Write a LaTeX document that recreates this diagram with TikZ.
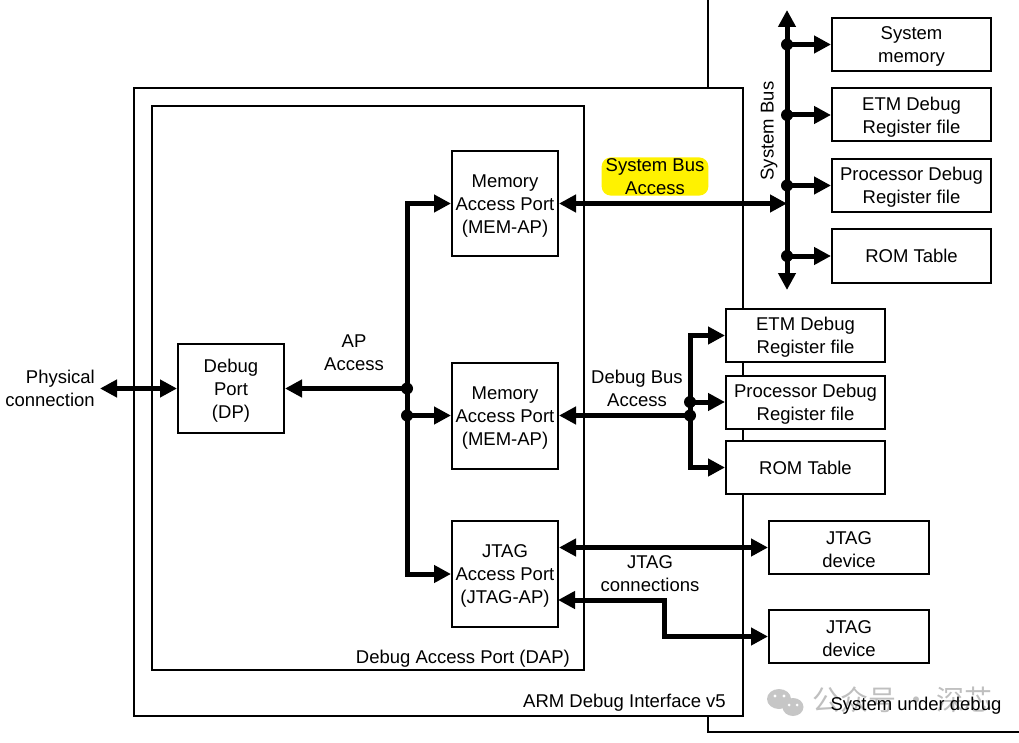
\documentclass[tikz,border=0pt]{standalone}
\usepackage{fontspec}
\setmainfont{Liberation Sans}
\newfontfamily\cjkfont{Noto Sans CJK SC}
\usetikzlibrary{arrows.meta,calc}
\newcommand\mystrut{\rule{0pt}{17.5pt}}
\begin{document}
\begin{tikzpicture}[x=1pt,y=-1pt,
  every node/.style={font=\fontsize{18.5pt}{23pt}\selectfont},
  box/.style={draw,line width=2pt,fill=white,align=center,inner sep=0pt},
  apbox/.style={box,minimum width=106pt,minimum height=106pt},
  rbox/.style={box,minimum width=159pt,minimum height=53pt},
  frame/.style={draw,line width=2pt},
  bus/.style={line width=5pt},
  tip/.style={-{Triangle[length=17pt,width=17pt]}},
  dtip/.style={{Triangle[length=17pt,width=17pt]}-{Triangle[length=17pt,width=17pt]}},
  ltip/.style={{Triangle[length=17pt,width=17pt]}-},
  dot/.style={fill,circle,inner sep=0pt,minimum size=12pt},
  lbl/.style={align=center,inner sep=0pt}
]
\useasboundingbox (0,0) rectangle (1019,743);
% system under debug region
\draw[line width=2pt] (708,-5) -- (708,732) -- (1025,732);
% ARM debug interface box
\draw[frame,fill=white] (134,88) rectangle (743,716);
% DAP box
\draw[frame] (152,106) rectangle (584,670);

% nodes
\node[box,minimum width=106pt,minimum height=89pt] (dp) at (231,388.5) {\mystrut Debug\\Port\\(DP)};
\node[apbox,minimum height=105pt] (mem1) at (505,203.5) {\mystrut Memory\\Access Port\\(MEM-AP)};
\node[apbox] (mem2) at (505,415.5) {\mystrut Memory\\Access Port\\(MEM-AP)};
\node[apbox] (jap) at (505,574) {\mystrut JTAG\\Access Port\\(JTAG-AP)};

\node[rbox] (smem) at (911.5,44.5) {\mystrut System\\memory};
\node[rbox] (setm) at (911.5,115) {\mystrut ETM Debug\\Register file};
\node[rbox] (sproc) at (911.5,185.5) {\mystrut Processor Debug\\Register file};
\node[rbox] (srom) at (911.5,256) {ROM Table};

\node[rbox] (detm) at (805.5,335.5) {\mystrut ETM Debug\\Register file};
\node[rbox] (dproc) at (805.5,402) {\mystrut Processor Debug\\Register file};
\node[rbox] (drom) at (805.5,467.5) {ROM Table};

\node[rbox,minimum width=160pt] (jdev1) at (849,547.5) {\mystrut JTAG\\device};
\node[rbox,minimum width=160pt] (jdev2) at (849,636.5) {\mystrut JTAG\\device};

% coordinates
\coordinate (phys) at (100,388.5);
\coordinate (apj) at (407,388.5);
\coordinate (apj2) at (407,415.5);
\coordinate (sbtop) at (787,10);
\coordinate (sbbot) at (787,290);
\coordinate (dbj) at (690,415.5);
\coordinate (dbj1) at (690,402);
\coordinate (jt2) at (558,600);
\coordinate (jbend) at (664,618);

% physical connection
\draw[bus,dtip] (phys) -- (dp.west);
% AP bus
\draw[bus,tip] (apj) |- (mem1.west);
\draw[bus,tip] (apj) |- (jap.west);
\draw[bus,tip] (apj) -- (dp.east);
\draw[bus,tip] (apj2) -- (mem2.west);
\node[dot] (d1) at (apj) {};
\node[dot] (d2) at (apj2) {};

% system bus
\draw[bus,dtip] (sbtop) -- (sbbot);
\draw[bus,dtip] (mem1.east) -- (mem1.east -| sbtop);
\foreach \n in {smem,setm,sproc,srom}{
  \draw[bus,tip] (\n.west -| sbtop) -- (\n.west);
  \node[dot] at (\n.west -| sbtop) {};
}

% debug bus
\draw[bus,ltip] (mem2.east) -- (dbj);
\draw[bus,tip] (dbj) |- (detm.west);
\draw[bus,tip] (dbj) |- (drom.west);
\draw[bus,tip] (dbj1) -- (dproc.west);
\node[dot] at (dbj) {};
\node[dot] at (dbj1) {};

% JTAG connections
\draw[bus,dtip] (jdev1.west -| jap.east) -- (jdev1.west);
\draw[bus,dtip] (jt2) -| (jbend) |- (jdev2.west);

% labels
\node[lbl,anchor=east,align=right] (lphys) at (95,388.5) {Physical\\connection};
\node[lbl] (lap) at (354,353) {AP\\Access};
\node[lbl,fill=yellow,rounded corners=9pt,inner xsep=4pt,inner ysep=1pt] (lsba) at (655,176.5) {System Bus\\Access};
\node[lbl] (ldba) at (637,388) {Debug Bus\\Access};
\node[lbl] (ljtag) at (650,574) {JTAG\\connections};
\node[lbl,rotate=90] (lsb) at (769,131) {System Bus};
\node[lbl,anchor=east] (ldap) at (570,659) {Debug Access Port (DAP)};
\node[lbl,anchor=east] (larm) at (726,703) {ARM Debug Interface v5};

% watermark
\begin{scope}[gray!45]
  \fill (779,699) ellipse (12pt and 10pt);
  \fill (793,707) ellipse (10.5pt and 9pt);
  \fill[white] (775,696) circle (1.7pt) (784,696) circle (1.7pt);
  \fill[white] (789,705) circle (1.5pt) (797,705) circle (1.5pt);
\end{scope}
\node[lbl,text=gray!50,anchor=west,font=\cjkfont\fontsize{28pt}{30pt}\selectfont] (wm) at (812,700) {公众号 · 深芯};
\node[lbl] (lsud) at (916,706) {System under debug};
\end{tikzpicture}
\end{document}
